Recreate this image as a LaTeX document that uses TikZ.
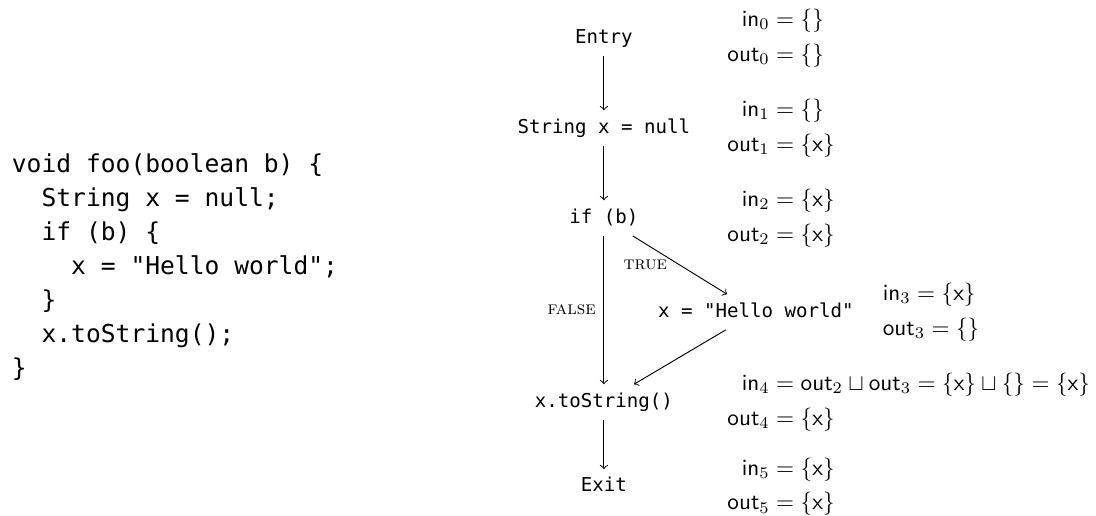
\documentclass[tikz,border=0pt]{standalone}
\usepackage{amsmath}
\usepackage{fontspec}
\setmonofont{DejaVu Sans Mono}[Scale=0.915]
\usepackage{tikz}
\usetikzlibrary{positioning}

\newcommand{\codeindent}{\hphantom{xx}}
\newcommand{\inof}[1]{\mathsf{in}_{#1}}
\newcommand{\outof}[1]{\mathsf{out}_{#1}}
\newcommand{\vx}{\mathsf{x}}

\begin{document}
\begin{tikzpicture}[
    node distance=38.8pt,
    stmt/.style={
        font=\small\ttfamily,
        text height=6.3pt,
        text depth=2pt,
        on grid
    },
    code/.style={
        anchor=west,
        align=left,
        font=\ttfamily\fontsize{11.6}{14.66}\selectfont
    },
    note/.style={anchor=west},
    branch/.style={font=\footnotesize\scshape},
    flow/.style={->}
]
\useasboundingbox (0,0) rectangle (472.4pt,-222.4pt);

% Source of the method
\node[code] (src) at (1.6pt,-115.3pt) {void foo(boolean b) \{\\
\codeindent String x = null;\\
\codeindent if (b) \{\\
\codeindent\codeindent x = "Hello world";\\
\codeindent \}\\
\codeindent x.toString();\\
\}};

% Control flow graph
\node[stmt] (entry) at (260.3pt,-16.4pt) {Entry};
\node[stmt, below=of entry] (decl) {String x = null};
\node[stmt, below=of decl] (ifb) {if (b)};
\node[stmt, below right=40.5pt and 65.5pt of ifb] (assign) {x = "Hello world"};
\node[stmt, below=79.3pt of ifb] (call) {x.toString()};
\node[stmt, below=36.6pt of call] (exit) {Exit};

\draw[flow] (entry) -- (decl);
\draw[flow] (decl) -- (ifb);
\draw[flow] (ifb) -- node[branch, midway, left=2pt] (lbltrue) {true} (assign);
\draw[flow] (ifb) -- node[branch, midway, left] (lblfalse) {false} (call);
\draw[flow] (assign) -- (call);
\draw[flow] (call) -- (exit);

% In/out sets per block
\coordinate (notecol) at (310pt,0);
\node[note] (fact0) at (entry -| notecol) {$\begin{aligned}
    \inof{0} &= \{\} \\ \outof{0} &= \{\} \end{aligned}$};
\node[note] (fact1) at (decl -| notecol) {$\begin{aligned}
    \inof{1} &= \{\} \\ \outof{1} &= \{\vx\} \end{aligned}$};
\node[note] (fact2) at (ifb -| notecol) {$\begin{aligned}
    \inof{2} &= \{\vx\} \\ \outof{2} &= \{\vx\} \end{aligned}$};
\node[note, right=5.5pt of assign, align=left] (fact3)
    {$\inof{3} = \{\vx\}$\\[3pt]$\outof{3} = \{\}$};
\node[note] (fact4) at (call -| notecol) {$\begin{aligned}
    \inof{4} &= \outof{2} \sqcup \outof{3} = \{\vx\} \sqcup \{\} = \{\vx\} \\
    \outof{4} &= \{\vx\} \end{aligned}$};
\node[note] (fact5) at (exit -| notecol) {$\begin{aligned}
    \inof{5} &= \{\vx\} \\ \outof{5} &= \{\vx\} \end{aligned}$};

\end{tikzpicture}
\end{document}
